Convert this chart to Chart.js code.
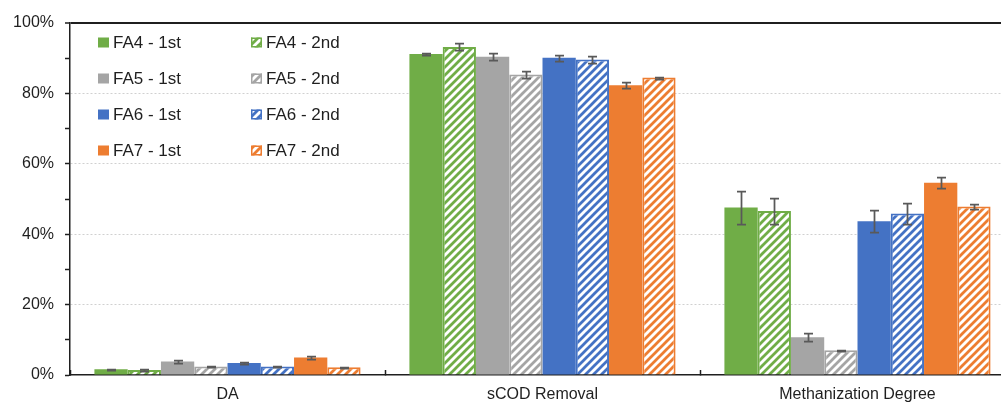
<!DOCTYPE html>
<html>
<head>
<meta charset="utf-8">
<title>FA4–FA7: DA, sCOD Removal and Methanization Degree</title>
<script src="https://cdn.jsdelivr.net/npm/chart.js@4/dist/chart.umd.min.js"></script>
<style>
  html, body { margin: 0; padding: 0; background: #ffffff; overflow: hidden; }
  #wrap { width: 1016px; height: 403px; }
</style>
</head>
<body>
<div id="wrap"><canvas id="chart" width="1016" height="403"></canvas></div>
<script>
// Categories on the x axis
const categories = ['DA', 'sCOD Removal', 'Methanization Degree'];

// Mean values (%) per feed / run
const fa4First  = [1.6, 91.2, 47.6];
const fa4Second = [1.4, 93.2, 46.6];
const fa5First  = [3.8, 90.4, 10.7];
const fa5Second = [2.4, 85.4, 7.0];
const fa6First  = [3.4, 90.1, 43.7];
const fa6Second = [2.4, 89.6, 45.9];
const fa7First  = [5.0, 82.3, 54.6];
const fa7Second = [2.2, 84.5, 47.9];

// Standard deviations (%) for the error bars
const fa4FirstErr  = [0.2, 0.2, 4.7];
const fa4SecondErr = [0.2, 1.0, 3.6];
const fa5FirstErr  = [0.4, 0.95, 1.1];
const fa5SecondErr = [0.2, 0.9, 0.2];
const fa6FirstErr  = [0.4, 0.9, 3.2];
const fa6SecondErr = [0.2, 0.95, 3.1];
const fa7FirstErr  = [0.5, 0.9, 1.6];
const fa7SecondErr = [0.2, 0.3, 0.6];

// Series labels
const seriesLabels = ['FA4 - 1st', 'FA4 - 2nd', 'FA5 - 1st', 'FA5 - 2nd',
                      'FA6 - 1st', 'FA6 - 2nd', 'FA7 - 1st', 'FA7 - 2nd'];

// Y axis tick labels (every 20 %)
const yTickLabels = ['0%', '20%', '40%', '60%', '80%', '100%'];

const GREEN = '#70AD47', GRAY = '#A5A5A5', BLUE = '#4472C4', ORANGE = '#ED7D31';
const FONT = "'Liberation Sans', Arial, sans-serif";
const TEXT = '#1f1f1f';

// Upward diagonal hatch on white for second-run bars
function makeHatch(color) {
  const c = document.createElement('canvas');
  c.width = 8; c.height = 8;
  const g = c.getContext('2d');
  g.fillStyle = '#ffffff';
  g.fillRect(0, 0, 8, 8);
  g.strokeStyle = color;
  g.lineWidth = 2.8;
  g.beginPath();
  g.moveTo(-2, 10); g.lineTo(10, -2);
  g.moveTo(-6, 6);  g.lineTo(6, -6);
  g.moveTo(2, 14);  g.lineTo(14, 2);
  g.stroke();
  return g.createPattern(c, 'repeat');
}

function solid(label, data, err, color) {
  return { label, data, err, backgroundColor: color, borderWidth: 0, legendColor: color, hatched: false };
}
function hatched(label, data, err, color) {
  return { label, data, err, backgroundColor: makeHatch(color), borderColor: color,
           borderWidth: 2, borderSkipped: 'start', legendColor: color, hatched: true };
}

const datasets = [
  solid(seriesLabels[0], fa4First, fa4FirstErr, GREEN),
  hatched(seriesLabels[1], fa4Second, fa4SecondErr, GREEN),
  solid(seriesLabels[2], fa5First, fa5FirstErr, GRAY),
  hatched(seriesLabels[3], fa5Second, fa5SecondErr, GRAY),
  solid(seriesLabels[4], fa6First, fa6FirstErr, BLUE),
  hatched(seriesLabels[5], fa6Second, fa6SecondErr, BLUE),
  solid(seriesLabels[6], fa7First, fa7FirstErr, ORANGE),
  hatched(seriesLabels[7], fa7Second, fa7SecondErr, ORANGE)
];

// Error bars: vertical whisker with caps at mean ± sd
const errorBars = {
  id: 'errorBars',
  afterDatasetsDraw(chart) {
    const ctx = chart.ctx;
    const y = chart.scales.y;
    ctx.save();
    ctx.strokeStyle = '#595959';
    ctx.lineWidth = 1.75;
    chart.data.datasets.forEach((ds, i) => {
      const meta = chart.getDatasetMeta(i);
      meta.data.forEach((bar, j) => {
        const v = ds.data[j], e = ds.err[j];
        const yt = Math.round(y.getPixelForValue(v + e)) + 0.5;
        const yb = Math.round(y.getPixelForValue(v - e)) + 0.5;
        const x = Math.round(bar.x) + 0.5;
        ctx.beginPath();
        ctx.moveTo(x, yt); ctx.lineTo(x, yb);
        ctx.moveTo(x - 4.5, yt); ctx.lineTo(x + 4.5, yt);
        ctx.moveTo(x - 4.5, yb); ctx.lineTo(x + 4.5, yb);
        ctx.stroke();
      });
    });
    ctx.restore();
  }
};

// Two-column legend inside the plot area
const gridLegend = {
  id: 'gridLegend',
  afterDraw(chart) {
    const ctx = chart.ctx;
    const area = chart.chartArea;
    ctx.save();
    ctx.font = '17px ' + FONT;
    ctx.textBaseline = 'middle';
    ctx.textAlign = 'left';
    chart.data.datasets.forEach((ds, i) => {
      const col = i % 2, row = Math.floor(i / 2);
      const mx = area.left + 28 + col * 153;
      const my = area.top + 19.5 + row * 36;
      if (ds.hatched) {
        ctx.fillStyle = ds.backgroundColor;
        ctx.fillRect(mx, my - 5, 11, 10);
        ctx.strokeStyle = ds.legendColor;
        ctx.lineWidth = 1.5;
        ctx.strokeRect(mx + 0.75, my - 4.25, 9.5, 8.5);
      } else {
        ctx.fillStyle = ds.legendColor;
        ctx.fillRect(mx, my - 5, 11, 10);
      }
      ctx.fillStyle = TEXT;
      ctx.fillText(ds.label, mx + 15, my + 0.5);
    });
    ctx.restore();
  }
};

new Chart(document.getElementById('chart'), {
  type: 'bar',
  data: { labels: categories, datasets },
  plugins: [errorBars, gridLegend],
  options: {
    responsive: false,
    animation: false,
    devicePixelRatio: 1,
    layout: { padding: { top: 23, right: 1, bottom: 0, left: 0 } },
    datasets: { bar: { barPercentage: 1.0, categoryPercentage: 0.845 } },
    plugins: { legend: { display: false }, tooltip: { enabled: false } },
    scales: {
      x: {
        afterFit(scale) { scale.height = 28; },
        grid: {
          offset: true,
          drawOnChartArea: false,
          drawTicks: true,
          tickLength: -5,
          tickColor: '#1f1f1f',
          tickWidth: 1.5
        },
        border: { display: true, color: '#1f1f1f', width: 1.5 },
        ticks: { color: TEXT, font: { family: FONT, size: 16 }, padding: 15, maxRotation: 0 }
      },
      y: {
        min: 0,
        max: 100,
        afterFit(scale) { scale.width = 70; },
        ticks: {
          stepSize: 10,
          autoSkip: false,
          padding: 11,
          color: TEXT,
          font: { family: FONT, size: 16 },
          callback: (v) => (v % 20 === 0 ? yTickLabels[v / 20] : '')
        },
        grid: {
          drawTicks: true,
          tickLength: 5,
          tickColor: '#1f1f1f',
          tickWidth: 1.5,
          color: (c) => {
            const v = c.tick ? c.tick.value : 0;
            if (v === 100) return '#1f1f1f';
            if (v > 0 && v % 20 === 0) return '#d0d0d0';
            return 'rgba(0,0,0,0)';
          },
          lineWidth: (c) => (c.tick && c.tick.value === 100 ? 2 : 1)
        },
        border: {
          display: true,
          color: '#1f1f1f',
          width: 1.5,
          dash: (c) => (c.tick && c.tick.value === 100 ? [] : [2, 2])
        }
      }
    }
  }
});
</script>
</body>
</html>
